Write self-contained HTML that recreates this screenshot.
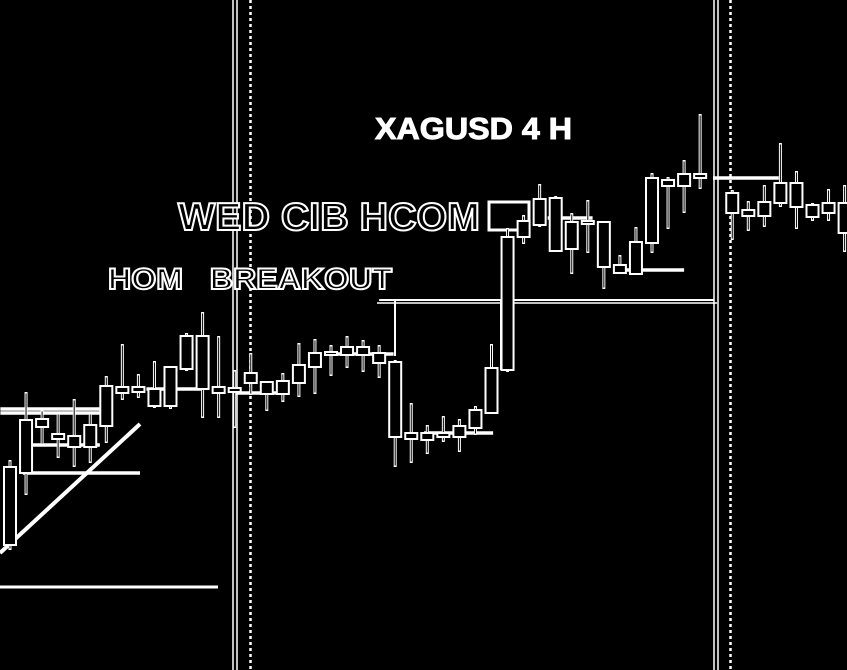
<!DOCTYPE html>
<html><head><meta charset="utf-8"><style>
html,body{margin:0;padding:0;background:#000;width:847px;height:670px;overflow:hidden}
svg{display:block}
</style></head><body>
<svg id="chart" width="847" height="670" xmlns="http://www.w3.org/2000/svg">
<rect width="847" height="670" fill="#000"/>
<g id="vlines" stroke="#fff">
<line x1="233" y1="0" x2="233" y2="670" stroke-width="1.5"/>
<line x1="237" y1="0" x2="237" y2="670" stroke-width="1.5"/>
<line x1="250.5" y1="0" x2="250.5" y2="670" stroke-width="2.5" stroke-dasharray="3,3"/>
<line x1="714" y1="0" x2="714" y2="670" stroke-width="1.5"/>
<line x1="718" y1="0" x2="718" y2="670" stroke-width="1.5"/>
<line x1="730.5" y1="0" x2="730.5" y2="670" stroke-width="2.5" stroke-dasharray="3,3"/>
</g>
<g id="annotations"></g>
<g id="candles"></g>
<text x="375" y="139" textLength="197" lengthAdjust="spacingAndGlyphs" font-family="Liberation Sans, sans-serif" font-weight="bold" font-size="31" fill="#fff" stroke="#fff" stroke-width="1">XAGUSD 4 H</text>
<text x="178" y="230" textLength="302" lengthAdjust="spacingAndGlyphs" font-family="Liberation Sans, sans-serif" font-weight="bold" font-size="39" fill="#000" stroke="#fff" stroke-width="2">WED CIB HCOM</text>
<text x="108" y="289" textLength="284" lengthAdjust="spacingAndGlyphs" font-family="Liberation Sans, sans-serif" font-weight="bold" font-size="30" fill="#000" stroke="#fff" stroke-width="2" xml:space="preserve">HOM   BREAKOUT</text>
</svg>
<script>
const slots = [0,1,2,3,4,5,6,7,8,9,10,11,12,13,14,15,16,17,18,19,20,21,22,23,24,25,26,27,28,29,30,31,32,33,34,35,36,37,38,39,40,41,42,43,45,46,47,48,49,50,51,52];
const highs = [24.0,30.8,29.0,28.7,30.1,28.7,32.4,35.6,32.6,33.9,33.4,36.7,38.8,36.4,33.0,34.7,31.8,32.7,35.7,36.1,35.5,36.4,36.0,35.5,34.0,29.7,27.5,28.4,28.1,29.4,35.6,47.2,48.5,51.6,50.4,48.7,50.0,47.8,44.5,47.3,52.7,52.3,54.0,58.6,51.0,49.9,51.5,55.7,52.9,49.7,51.1,51.5];
const lows = [15.0,20.5,25.5,24.2,23.3,23.7,25.7,30.0,30.2,29.2,29.1,32.9,28.2,28.2,27.2,30.5,28.9,29.8,30.3,30.6,32.4,33.2,32.8,32.2,23.3,23.7,24.6,25.8,24.8,26.5,28.7,32.8,45.6,47.3,44.8,42.6,44.7,41.1,42.6,42.5,44.7,47.1,48.7,51.1,46.0,46.9,47.3,49.3,47.1,47.9,47.9,44.8];
const bodyTops = [23.3,28.0,28.1,26.6,26.4,27.5,31.4,31.3,31.3,31.1,33.3,36.4,36.4,31.3,31.2,32.7,31.8,31.9,33.5,34.7,34.8,35.3,35.3,34.7,33.8,26.7,26.7,26.7,27.4,29.0,33.2,46.3,47.9,50.1,50.2,47.8,47.9,47.8,43.5,45.8,52.2,52.0,52.6,52.6,50.7,49.0,49.8,51.7,51.7,49.5,49.7,49.7];
const bodyBottoms = [15.5,22.7,27.3,26.1,25.3,25.3,27.4,30.7,30.8,29.4,29.4,33.1,31.1,30.7,30.8,31.7,30.6,30.6,31.7,33.3,34.6,34.5,34.5,33.7,26.3,26.1,26.0,26.3,26.3,27.2,28.7,33.0,46.3,47.5,44.9,45.1,47.7,43.3,42.7,42.6,45.7,51.4,51.4,52.2,48.7,48.4,48.4,49.7,49.3,48.3,48.7,46.7];
// horizontal levels: [startSlot, endSlot, price]
const levelStart = [-0.6,-0.6,1.2,0.8,8.5,14.0,19.8,23.0,25.8,37.9,43.8,33.5];
const levelEnd = [5.9,5.6,5.6,8.1,12.0,17.3,23.9,43.9,30.1,42.0,47.9,36.3];
const levelPrice = [29.1,28.7,25.5,22.7,31.1,30.7,34.6,40.0,26.7,43.0,52.2,48.2];

const NS = "http://www.w3.org/2000/svg";
function xScale(k){ return 10 + k*16.05; }
function yScale(p){ return 700 - p*10; }
const cg = document.getElementById('candles');
const ag = document.getElementById('annotations');

for (let i=0;i<slots.length;i++){
  const x = xScale(slots[i]);
  const g = document.createElementNS(NS,'g');
  
  
  const w = document.createElementNS(NS,'line');
  w.setAttribute('x1',x); w.setAttribute('x2',x);
  w.setAttribute('y1',yScale(highs[i])); w.setAttribute('y2',yScale(lows[i]));
  w.setAttribute('stroke','#fff'); w.setAttribute('stroke-width','3');
  
  
  g.appendChild(w);
  const wi = document.createElementNS(NS,'line');
  wi.setAttribute('x1',x); wi.setAttribute('x2',x);
  wi.setAttribute('y1',yScale(highs[i])+1.5); wi.setAttribute('y2',yScale(lows[i])-1.5);
  wi.setAttribute('stroke','#000'); wi.setAttribute('stroke-width','1');
  g.appendChild(wi);
  const t = yScale(bodyTops[i]), b = yScale(bodyBottoms[i]);
  const r = document.createElementNS(NS,'rect');
  r.setAttribute('x',x-6); r.setAttribute('y',t);
  r.setAttribute('width',12); r.setAttribute('height',Math.max(b-t,3));
  r.setAttribute('fill','#000'); r.setAttribute('stroke','#fff'); r.setAttribute('stroke-width','2');
  
  
  g.appendChild(r);
  cg.appendChild(g);
}
for (let i=0;i<levelPrice.length;i++){
  const l = document.createElementNS(NS,'line');
  l.setAttribute('x1',xScale(levelStart[i])); l.setAttribute('x2',xScale(levelEnd[i]));
  l.setAttribute('y1',yScale(levelPrice[i])); l.setAttribute('y2',yScale(levelPrice[i]));
  l.setAttribute('stroke','#fff'); l.setAttribute('stroke-width', i===7 ? '2' : '3.5');
  
  
  ag.appendChild(l);
}
function addLine(x1,y1,x2,y2,w,name){
  const l = document.createElementNS(NS,'line');
  l.setAttribute('x1',x1); l.setAttribute('y1',y1); l.setAttribute('x2',x2); l.setAttribute('y2',y2);
  l.setAttribute('stroke','#fff'); l.setAttribute('stroke-width',w);
  
  
  ag.appendChild(l);
}
addLine(0,553,140,424,4,'trend-line');
addLine(0,587,218,587,3,'support-line');
addLine(395,300,395,356,2,'breakout-connector');
addLine(501,300,501,370,2,'breakout-connector');
addLine(377,303,717,303,1.5,'breakout-level-lower');
const bx = document.createElementNS(NS,'rect');
bx.setAttribute('x',489); bx.setAttribute('y',202); bx.setAttribute('width',40); bx.setAttribute('height',28);
bx.setAttribute('fill','none'); bx.setAttribute('stroke','#fff'); bx.setAttribute('stroke-width','3');


ag.appendChild(bx);
</script>
</body></html>
